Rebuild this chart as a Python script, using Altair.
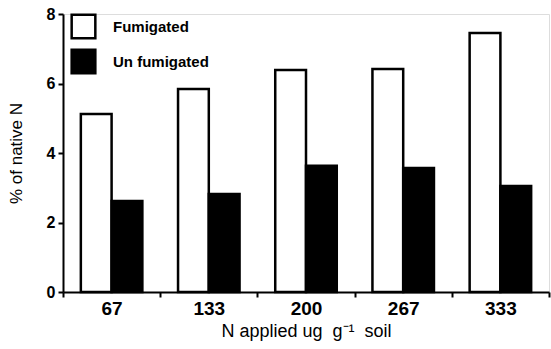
import altair as alt
import pandas as pd

categories = ["67", "133", "200", "267", "333"]
fumigated = [5.12, 5.84, 6.39, 6.42, 7.45]
unfumigated = [2.62, 2.82, 3.63, 3.57, 3.05]
series = ["Fumigated", "Un fumigated"]

rows = []
for c, f, u in zip(categories, fumigated, unfumigated):
    rows.append({"N": c, "Treatment": series[0], "value": f})
    rows.append({"N": c, "Treatment": series[1], "value": u})
df = pd.DataFrame(rows)

font = "Liberation Sans"

chart = alt.Chart(df).mark_bar(stroke="black", strokeWidth=2.5).encode(
    x=alt.X("N:N", sort=categories,
            scale=alt.Scale(paddingInner=0, paddingOuter=0),
            axis=alt.Axis(title="N applied ug\u00a0 g\u207b\u00b9\u00a0 soil", labelAngle=0,
                          tickBand="extent", domainWidth=2, tickWidth=2, tickSize=5,
                          domainColor="black", tickColor="black",
                          labelFont=font, labelFontSize=19, labelFontWeight="bold",
                          labelColor="black", labelPadding=2,
                          titleFont=font, titleFontSize=18, titleFontWeight="normal",
                          titleColor="black", titlePadding=4)),
    xOffset=alt.XOffset("Treatment:N", sort=series,
                        scale=alt.Scale(paddingInner=0, paddingOuter=0.58)),
    y=alt.Y("value:Q", scale=alt.Scale(domain=[0, 8]),
            axis=alt.Axis(title="% of native N", values=[0, 2, 4, 6, 8], grid=False,
                          domainWidth=2, tickWidth=2, tickSize=5,
                          domainColor="black", tickColor="black",
                          labelFont=font, labelFontSize=16, labelFontWeight="bold",
                          labelColor="black", labelPadding=3,
                          titleFont=font, titleFontSize=17, titleFontWeight="normal",
                          titleColor="black", titlePadding=21)),
    fill=alt.Fill("Treatment:N", sort=series,
                  scale=alt.Scale(domain=series, range=["white", "black"]),
                  legend=alt.Legend(title=None, orient="none", legendX=7, legendY=-1,
                                    symbolType="square", symbolSize=560,
                                    symbolStrokeColor="black", symbolStrokeWidth=2.5,
                                    rowPadding=0, labelOffset=16,
                                    labelFont=font, labelFontSize=15,
                                    labelFontWeight="bold", labelColor="black")),
).properties(
    width=486, height=278,
    padding={"left": 63, "top": 14, "right": 2, "bottom": 57},
    autosize=alt.AutoSizeParams(type="none"),
).configure_view(stroke=None).configure(background="white")

chart.save("out.html", embed_options={"renderer": "svg", "actions": False})
